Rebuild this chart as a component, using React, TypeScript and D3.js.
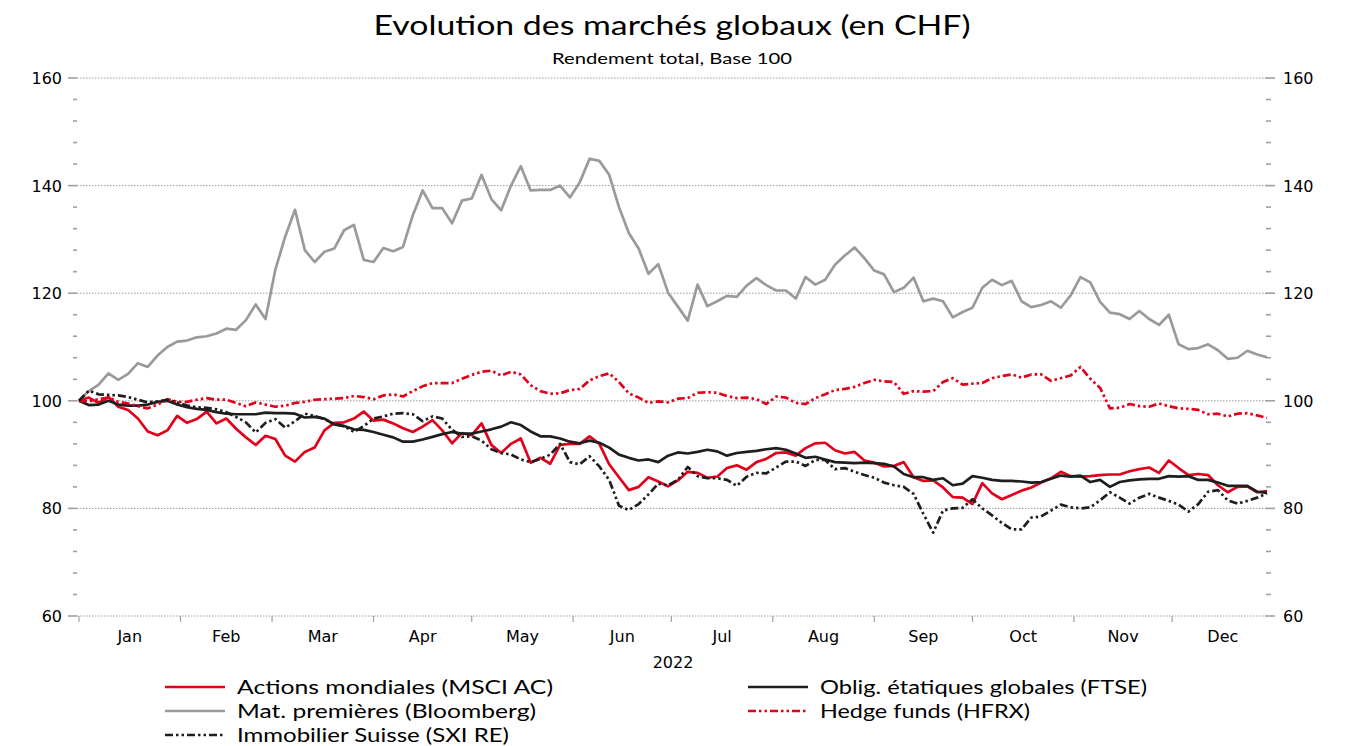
import React from "react";
import * as d3 from "d3";

const W = 1351;
const H = 746;

// x categories: one observation every 3 calendar days in 2022
const startDate = new Date(2022, 0, 1);
const dates: Date[] = d3.range(122).map((k) => d3.timeDay.offset(startDate, 3 * k));

const actions = [
  100, 100.6, 99.6, 100.7, 98.9, 98.3, 96.7, 94.3, 93.6, 94.5,
  97.2, 95.9, 96.6, 98.0, 95.8, 96.7, 94.8, 93.2, 91.8, 93.5,
  92.9, 89.8, 88.7, 90.5, 91.3, 94.5, 95.9, 96.0, 96.7, 98.0,
  96.3, 96.5, 95.8, 94.9, 94.2, 95.2, 96.4, 94.5, 92.1, 94.0,
  93.6, 95.8, 91.8, 90.3, 92.0, 93.0, 88.5, 89.4, 88.3, 91.8,
  92.0, 92.0, 93.4, 92.0, 88.2, 85.8, 83.4, 84.0, 85.8, 85.0,
  84.1, 85.2, 86.8, 86.6, 85.7, 85.9, 87.5, 88.0, 87.2, 88.6,
  89.2, 90.3, 90.4, 89.8, 91.2, 92.1, 92.2, 90.8, 90.2, 90.5,
  88.9, 88.5, 87.8, 87.9, 88.6, 85.8, 85.1, 85.2, 83.9, 82.1,
  82.0, 80.8, 84.7, 82.8, 81.7, 82.5, 83.3, 83.9, 84.8, 85.6,
  86.8, 86.0, 85.9, 86.0, 86.2, 86.3, 86.3, 86.9, 87.3, 87.6,
  86.6, 88.9, 87.5, 86.2, 86.4, 86.2, 84.3, 83.0, 84.0, 84.1,
  83.0, 83.2,
];

const oblig = [
  100, 99.2, 99.3, 100.0, 99.3, 99.1, 99.1, 99.3, 99.8, 100.0,
  99.3, 98.8, 98.5, 98.3, 97.9, 97.6, 97.5, 97.5, 97.5, 97.8,
  97.7, 97.7, 97.6, 96.9, 97.0, 96.7, 95.6, 95.3, 94.7, 94.6,
  94.2, 93.7, 93.2, 92.4, 92.4, 92.8, 93.3, 93.8, 94.2, 93.9,
  93.9, 94.3, 94.7, 95.2, 96.0, 95.5, 94.3, 93.4, 93.4, 93.0,
  92.4, 92.1, 92.6, 92.2, 91.3, 90.0, 89.4, 88.9, 89.1, 88.6,
  89.8, 90.4, 90.2, 90.5, 90.9, 90.6, 89.8, 90.3, 90.5, 90.7,
  91.0, 91.2, 90.9, 90.2, 89.4, 89.6, 89.1, 88.6, 88.5, 88.4,
  88.5, 88.4, 88.3, 87.8, 86.4, 85.8, 85.8, 85.3, 85.6, 84.3,
  84.6, 86.0, 85.7, 85.3, 85.1, 85.1, 85.0, 84.8, 84.9, 85.5,
  86.1, 85.9, 86.1, 84.9, 85.3, 84.0, 84.9, 85.2, 85.4, 85.5,
  85.5, 86.0, 85.9, 86.0, 85.3, 85.3, 84.8, 84.2, 84.2, 84.2,
  83.1, 82.9,
];

const matieres = [
  100, 101.8, 103.0, 105.1, 103.9, 105.0, 107.0, 106.3, 108.4, 110.0,
  111.0, 111.2, 111.8, 112.0, 112.5, 113.4, 113.2, 115.0, 117.9, 115.2,
  124.4, 130.5, 135.5, 128.0, 125.8, 127.7, 128.3, 131.7, 132.7, 126.2,
  125.8, 128.4, 127.8, 128.6, 134.5, 139.1, 135.8, 135.8, 133.0, 137.2,
  137.6, 142.0, 137.5, 135.4, 140.0, 143.6, 139.1, 139.2, 139.2, 140.0,
  137.8, 140.6, 145.0, 144.6, 142.0, 136.0, 131.2, 128.3, 123.6, 125.4,
  120.1, 117.5, 114.9, 121.6, 117.6, 118.5, 119.5, 119.3, 121.4, 122.8,
  121.5, 120.5, 120.5, 119.0, 123.0, 121.6, 122.5, 125.3, 127.0, 128.5,
  126.5, 124.2, 123.5, 120.2, 121.0, 122.9, 118.5, 119.0, 118.5, 115.5,
  116.5, 117.3, 121.0, 122.5, 121.5, 122.3, 118.5, 117.4, 117.8, 118.5,
  117.3, 119.6, 123.0, 122.0, 118.4, 116.4, 116.1, 115.2, 116.7, 115.2,
  114.1, 116.0, 110.5, 109.6, 109.8, 110.5, 109.4, 107.8, 108.0, 109.3,
  108.6, 108.1,
];

const hedge = [
  100, 99.9, 100.3, 100.6, 99.8, 99.5, 99.0, 98.6, 99.3, 100.3,
  99.8, 99.8, 100.2, 100.5, 100.2, 100.2, 99.6, 99.0, 99.7, 99.3,
  98.9, 99.1, 99.6, 99.8, 100.2, 100.3, 100.4, 100.5, 100.9, 100.7,
  100.3, 101.0, 101.2, 100.8, 101.8, 102.7, 103.3, 103.3, 103.3, 104.1,
  104.8, 105.4, 105.6, 104.7, 105.4, 104.9, 102.9, 101.8, 101.3, 101.4,
  102.0, 102.2, 103.8, 104.6, 105.1, 103.5, 101.4, 100.6, 99.6, 99.9,
  99.7, 100.4, 100.5, 101.5, 101.6, 101.5, 100.9, 100.5, 100.6, 100.3,
  99.4, 100.8, 100.6, 99.6, 99.4, 100.5, 101.2, 102.0, 102.2, 102.6,
  103.3, 103.9, 103.6, 103.5, 101.3, 101.8, 101.7, 101.8, 103.5, 104.2,
  103.0, 103.2, 103.3, 104.2, 104.6, 104.9, 104.3, 104.9, 104.9, 103.7,
  104.2, 104.7, 106.3, 104.1, 102.4, 98.6, 98.7, 99.4, 99.0, 98.9,
  99.5, 99.0, 98.6, 98.5, 98.3, 97.5, 97.6, 97.1, 97.6, 97.7,
  97.3, 96.8,
];

const immo = [
  100, 101.9, 101.2, 101.1, 101.0, 100.7, 100.2, 99.7, 99.9, 100.2,
  99.7, 99.1, 98.8, 98.7, 98.4, 97.9, 97.0, 96.0, 94.1, 95.9,
  96.6, 95.0, 96.2, 97.6, 97.2, 96.6, 95.7, 95.3, 94.2, 95.3,
  96.7, 97.1, 97.6, 97.7, 97.5, 96.2, 97.1, 96.7, 94.6, 93.3,
  93.4, 92.6, 91.0, 90.3, 90.0, 89.1, 88.6, 89.2, 90.0, 92.0,
  88.6, 88.2, 89.7, 87.8, 85.3, 80.5, 79.7, 80.8, 82.6, 84.6,
  84.3, 85.3, 87.7, 86.0, 85.6, 85.6, 85.3, 84.2, 85.9, 86.6,
  86.5, 87.6, 88.7, 88.7, 87.9, 89.0, 89.0, 87.3, 87.5, 86.8,
  86.2, 85.7, 84.8, 84.3, 84.0, 82.7, 79.0, 75.5, 79.6, 80.0,
  80.1, 81.7, 80.0, 78.7, 77.3, 76.1, 76.1, 78.3, 78.5, 79.6,
  80.7, 80.2, 80.0, 80.2, 81.5, 83.0, 82.0, 80.9, 82.0, 82.7,
  82.0, 81.4, 80.7, 79.4, 80.8, 83.1, 83.4, 81.5, 80.9, 81.4,
  82.0, 82.8,
];

const yMajorTicks = [60, 80, 100, 120, 140, 160];
const monthNames = ["Jan", "Feb", "Mar", "Apr", "May", "Jun", "Jul", "Aug", "Sep", "Oct", "Nov", "Dec"];
const yearLabel = "2022";

const RED = "#e2001a";
const BLACK = "#1e1e1e";
const GREY = "#9a9a9a";
const DASHDOT = "8 3 2.5 3 2.5 3";

type Series = { name: string; values: number[]; color: string; dash?: string };

const seriesList: Series[] = [
  { name: "Actions mondiales (MSCI AC)", values: actions, color: RED },
  { name: "Oblig. étatiques globales (FTSE)", values: oblig, color: BLACK },
  { name: "Mat. premières (Bloomberg)", values: matieres, color: GREY },
  { name: "Hedge funds (HFRX)", values: hedge, color: RED, dash: DASHDOT },
  { name: "Immobilier Suisse (SXI RE)", values: immo, color: BLACK, dash: DASHDOT },
];

// legend layout (row-major, two columns)
const legendLayout = [
  { col: 0, row: 0, w: 316 },
  { col: 1, row: 0, w: 327 },
  { col: 0, row: 1, w: 299 },
  { col: 1, row: 1, w: 210 },
  { col: 0, row: 2, w: 272 },
];

export default function App() {
  const x = d3
    .scaleTime()
    .domain([dates[0], dates[dates.length - 1]])
    .range([79, 1267]);
  const y = d3.scaleLinear().domain([60, 160]).range([616, 78]);

  const line = d3
    .line<number>()
    .x((_, i) => x(dates[i]))
    .y((v) => y(v));

  const plotLeft = 77;
  const plotRight = 1265;

  const minorTicks = d3.range(60, 161, 4).filter((v) => !yMajorTicks.includes(v));
  const monthStarts = d3.timeMonth.range(new Date(2022, 0, 1), new Date(2023, 0, 1));
  const monthMids = monthStarts.map((m) => {
    const next = d3.timeMonth.offset(m, 1);
    return new Date((m.getTime() + next.getTime()) / 2);
  });

  const axisFont = "'DejaVu Sans', sans-serif";
  const textFont = "Lato, 'Open Sans', sans-serif";

  return (
    <svg
      width={W}
      height={H}
      viewBox={`0 0 ${W} ${H}`}
      style={{ position: "absolute", left: 0, top: 0, background: "#fff" }}
    >
      {/* Title */}
      <text
        x={672}
        y={35}
        textAnchor="middle"
        fontFamily={textFont}
        fontSize={27}
        fill="#000"
        textLength={597}
        lengthAdjust="spacingAndGlyphs"
      >
        Evolution des marchés globaux (en CHF)
      </text>
      <text
        x={672}
        y={64}
        textAnchor="middle"
        fontFamily={textFont}
        fontSize={16}
        fill="#000"
        textLength={240}
        lengthAdjust="spacingAndGlyphs"
      >
        Rendement total, Base 100
      </text>

      {/* Gridlines */}
      {yMajorTicks.map((v) => (
        <line
          key={`g${v}`}
          x1={plotLeft}
          x2={plotRight}
          y1={y(v)}
          y2={y(v)}
          stroke="#9a9a9a"
          strokeWidth={1}
          strokeDasharray="1.5 1.5"
        />
      ))}

      {/* Left & right axis ticks */}
      {yMajorTicks.map((v) => (
        <g key={`t${v}`}>
          <line x1={68} x2={77} y1={y(v)} y2={y(v)} stroke="#a0a0a0" strokeWidth={1.6} />
          <line x1={1265} x2={1275} y1={y(v)} y2={y(v)} stroke="#a0a0a0" strokeWidth={1.6} />
          <text
            x={62}
            y={y(v) + 6}
            textAnchor="end"
            fontFamily={axisFont}
            fontSize={16}
            fill="#000"
          >
            {v}
          </text>
          <text
            x={1283}
            y={y(v) + 6}
            textAnchor="start"
            fontFamily={axisFont}
            fontSize={16}
            fill="#000"
          >
            {v}
          </text>
        </g>
      ))}
      {minorTicks.map((v) => (
        <g key={`m${v}`}>
          <line x1={73} x2={77} y1={y(v)} y2={y(v)} stroke="#a0a0a0" strokeWidth={1.6} />
          <line x1={1266} x2={1271} y1={y(v)} y2={y(v)} stroke="#a0a0a0" strokeWidth={1.6} />
        </g>
      ))}

      {/* X axis ticks & labels */}
      {monthStarts.map((m, i) => (
        <line
          key={`xt${i}`}
          x1={x(m)}
          x2={x(m)}
          y1={616}
          y2={622}
          stroke="#a0a0a0"
          strokeWidth={1.2}
        />
      ))}
      {monthMids.map((m, i) => (
        <text
          key={`xl${i}`}
          x={x(m)}
          y={642}
          textAnchor="middle"
          fontFamily={axisFont}
          fontSize={16}
          fill="#000"
        >
          {monthNames[i]}
        </text>
      ))}
      <text x={673} y={668} textAnchor="middle" fontFamily={axisFont} fontSize={16} fill="#000">
        {yearLabel}
      </text>

      {/* Series */}
      {seriesList.map((s) => (
        <path
          key={s.name}
          d={line(s.values) || ""}
          fill="none"
          stroke={s.color}
          strokeWidth={2.7}
          strokeLinejoin="round"
          strokeDasharray={s.dash}
        />
      ))}

      {/* Legend */}
      {seriesList.map((s, i) => {
        const L = legendLayout[i];
        const lx = L.col === 0 ? 165 : 748;
        const ly = 687 + L.row * 24;
        return (
          <g key={`lg${i}`}>
            <line
              x1={lx}
              x2={lx + 60}
              y1={ly}
              y2={ly}
              stroke={s.color}
              strokeWidth={2.7}
              strokeDasharray={s.dash}
            />
            <text
              x={lx + 72}
              y={ly + 6.5}
              fontFamily={textFont}
              fontSize={18.5}
              fill="#000"
              textLength={L.w}
              lengthAdjust="spacingAndGlyphs"
            >
              {s.name}
            </text>
          </g>
        );
      })}
    </svg>
  );
}
